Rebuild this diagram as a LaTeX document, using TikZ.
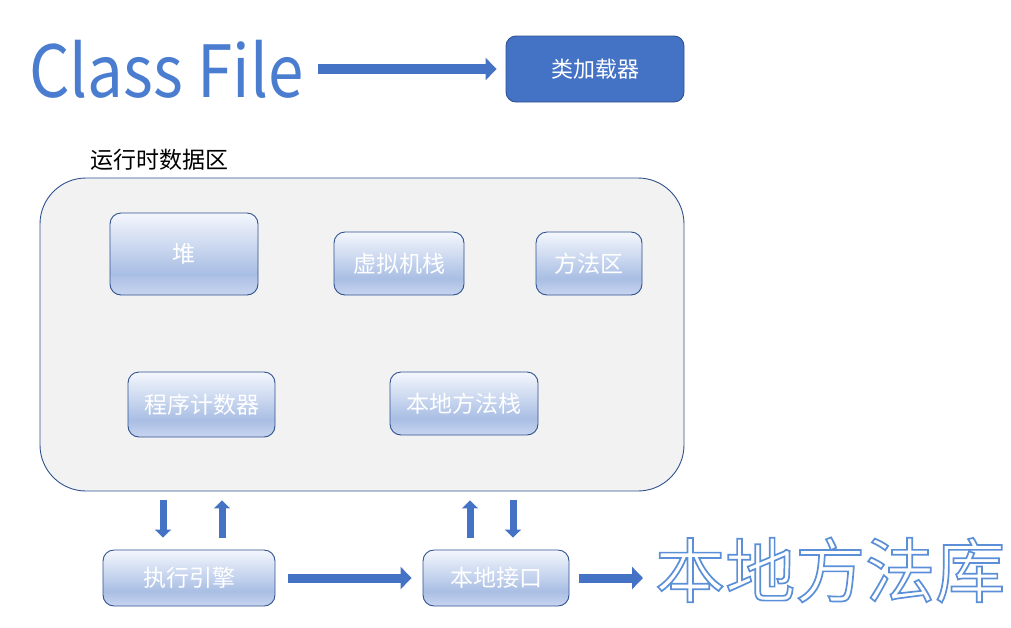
\documentclass[tikz,border=0pt]{standalone}
\usepackage{fontspec}
\newfontfamily\cjk{Noto Sans CJK SC}
\usetikzlibrary{arrows.meta}
\definecolor{accent}{HTML}{4472C4}
\definecolor{edge}{HTML}{2F528F}
\definecolor{regionfill}{HTML}{F2F2F2}
\definecolor{gtop}{HTML}{F4F7FD}
\definecolor{gmid}{HTML}{A9BEE4}
\definecolor{gbot}{HTML}{C8D5EF}
\definecolor{titleblue}{HTML}{4A7CCF}
\pgfdeclareverticalshading{boxgrad}{100bp}{color(0bp)=(gbot); color(25bp)=(gbot); color(38bp)=(gmid); color(75bp)=(gtop); color(100bp)=(gtop)}
\newcommand\outlinetext[1]{{\color{white}\special{pdf:literal direct 2 Tr 1.7 w 0.357 0.561 0.847 RG}#1\special{pdf:literal direct 0 Tr}}}
\tikzset{
  mem/.style={draw=edge, line width=0.9pt, rounded corners=11pt, shading=boxgrad,
    text=white, font=\cjk\fontsize{23}{26}\selectfont, inner sep=0pt, anchor=center},
  harrow/.style={line width=10pt, draw=accent, -{Triangle[length=11pt,width=22pt]}},
  varrow/.style={line width=7pt, draw=accent, -{Triangle[length=8pt,width=16pt]}},
}
\begin{document}
\begin{tikzpicture}[x=1pt,y=-1pt]
\useasboundingbox (0,0) rectangle (1011,627);
% title
\node[anchor=base west, inner sep=0pt, text=titleblue,
      font=\cjk\fontsize{72}{80}\selectfont] (classfile) at (29,97) {\scalebox{0.885}[1]{Class File}};
\node[draw=edge, line width=0.9pt, fill=accent, rounded corners=10pt, text=white,
      font=\cjk\fontsize{22}{25}\selectfont, minimum width=178pt, minimum height=66pt,
      inner sep=0pt] (loader) at (595,69) {类加载器};
\draw[harrow, shorten <=14pt, shorten >=9pt] (classfile.east |- loader.west) -- (loader.west);
% region
\node[draw=edge, line width=0.9pt, fill=regionfill, rounded corners=46pt,
      minimum width=644pt, minimum height=313pt, inner sep=0pt] (region) at (362,334.5) {};
\node[anchor=west, inner sep=0pt, font=\cjk\fontsize{23}{26}\selectfont] (regionlabel) at (90,160) {运行时数据区};
\node[mem, minimum width=148pt, minimum height=82pt] (heap) at (184,254) {堆};
\node[mem, minimum width=130pt, minimum height=63pt] (vmstack) at (399,263.5) {虚拟机栈};
\node[mem, minimum width=106pt, minimum height=63pt] (method) at (589,263.5) {方法区};
\node[mem, minimum width=147pt, minimum height=65pt] (pc) at (201.5,404.5) {程序计数器};
\node[mem, minimum width=148pt, minimum height=63pt] (nstack) at (464,403.5) {本地方法栈};
% bottom
\node[mem, minimum width=172pt, minimum height=56pt] (exec) at (189,578) {执行引擎};
\node[mem, minimum width=146pt, minimum height=56pt] (native) at (496,578) {本地接口};
\node[anchor=west, inner sep=0pt, font=\cjk\fontsize{70}{76}\selectfont] (lib) at (655,570)
  {\outlinetext{本地方法库}};
% vertical arrows
\draw[varrow, shorten <=9pt, shorten >=12pt] ([xshift=-26pt]exec.north |- region.south) -- ([xshift=-26pt]exec.north);
\draw[varrow, shorten <=12pt, shorten >=9pt] ([xshift=33pt]exec.north) -- ([xshift=33pt]exec.north |- region.south);
\draw[varrow, shorten <=12pt, shorten >=9pt] ([xshift=-26pt]native.north) -- ([xshift=-26pt]native.north |- region.south);
\draw[varrow, shorten <=9pt, shorten >=12pt] ([xshift=17pt]native.north |- region.south) -- ([xshift=17pt]native.north);
% horizontal arrows
\draw[harrow, line width=9pt, shorten <=13pt, shorten >=11pt] (exec.east) -- (native.west);
\draw[harrow, line width=9pt, shorten <=10pt, shorten >=12pt] (native.east) -- (lib.west |- native.east);
\end{tikzpicture}
\end{document}
